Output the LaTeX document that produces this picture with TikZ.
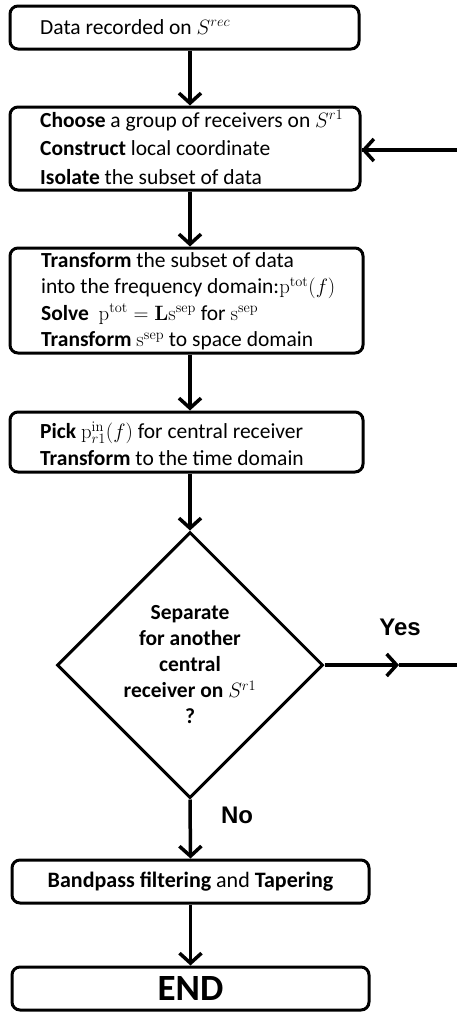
\documentclass[tikz,border=0pt]{standalone}
\usepackage{amsmath}
\usepackage[no-math]{fontspec}
\setmainfont{Carlito}
\newfontfamily\arialfont{Liberation Sans}
\usetikzlibrary{arrows.meta,shapes.geometric}
\begin{document}
\begin{tikzpicture}[x=1pt,y=-1pt,
  box/.style={draw,line width=3pt,rounded corners=8pt,inner sep=0pt},
  txt/.style={anchor=west,align=left,inner sep=0pt,font=\fontsize{21.5}{26.5}\selectfont},
  arr/.style={line width=3.5pt,-{Straight Barb[length=10pt,width=22pt,line width=3.5pt]}},
  ln/.style={line width=3.5pt},
  yn/.style={font=\arialfont\bfseries\fontsize{24}{26}\selectfont,inner sep=0pt}]
\useasboundingbox (0,0) rectangle (456,1012);
% boxes
\node[box,minimum width=349pt,minimum height=43pt] (b1) at (184.5,27.5) {};
\node[txt] (t1) at (40,27) {Data recorded on $S^{rec}$};
\node[box,minimum width=350pt,minimum height=83pt] (b2) at (185,148.5) {};
\node[txt,font=\fontsize{21.5}{28.5}\selectfont] (t2) at (40,147.5) {\textbf{Choose} a group of receivers on $S^{r1}$\\\textbf{Construct} local coordinate\\\textbf{Isolate} the subset of data};
\node[box,minimum width=353pt,minimum height=105pt] (b3) at (186.5,300.5) {};
\node[txt] (t3) at (41,301.5) {\textbf{Transform} the subset of data\\into the frequency domain:$\mathrm{p}^{\mathrm{tot}}(f)$\\\textbf{Solve} \ $\mathrm{p}^{\mathrm{tot}}=\mathbf{L}\mathrm{s}^{\mathrm{sep}}$ for $\mathrm{s}^{\mathrm{sep}}$\\\textbf{Transform} $\mathrm{s}^{\mathrm{sep}}$ to space domain};
\node[box,minimum width=353pt,minimum height=60pt] (b4) at (186.5,442) {};
\node[txt] (t4) at (40,443.5) {\textbf{Pick} $\mathrm{p}^{\mathrm{in}}_{r1}(f)$ for central receiver\\\textbf{Transform} to the time domain};
% decision
\node[draw,diamond,aspect=1,line width=3pt,minimum width=266pt,minimum height=266pt,inner sep=0pt,align=center,font=\bfseries\fontsize{21.5}{26}\selectfont] (d) at (190,665) {Separate\\for another\\central\\receiver on $S^{r1}$\\?};
% lower boxes
\node[box,minimum width=357pt,minimum height=43pt,font=\fontsize{22}{24}\selectfont] (b5) at (190.5,881.5) {\textbf{Bandpass filtering} and \textbf{Tapering}};
\node[box,minimum width=357pt,minimum height=43pt,font=\bfseries\fontsize{37}{38}\selectfont] (b6) at (190.5,988.5) {END};
% connectors
\draw[arr] (b1.south -| d.north) -- (b2.north -| d.north);
\draw[arr] (b2.south -| d.north) -- (b3.north -| d.north);
\draw[arr] (b3.south -| d.north) -- (b4.north -| d.north);
\draw[arr] (b4.south -| d.north) -- (d.north);
\draw[arr] (d.south) -- (b5.north);
\draw[arr] (b5.south) -- (b6.north);
% feedback loop
\coordinate (ymid) at (399,665);
\coordinate (c1) at (458.5,665);
\coordinate (c2) at (458.5,150);
\coordinate (c3) at (400,150);
\draw[arr] (d.east) -- (ymid);
\draw[ln] (ymid) -- (c1) -- (c2) -- (b2.east |- c2);
\draw[arr] (c3) -- (b2.east |- c2);
% labels
\node[yn] (yes) at (400,627) {Yes};
\node[yn] (no) at (237,815) {No};
\end{tikzpicture}
\end{document}
